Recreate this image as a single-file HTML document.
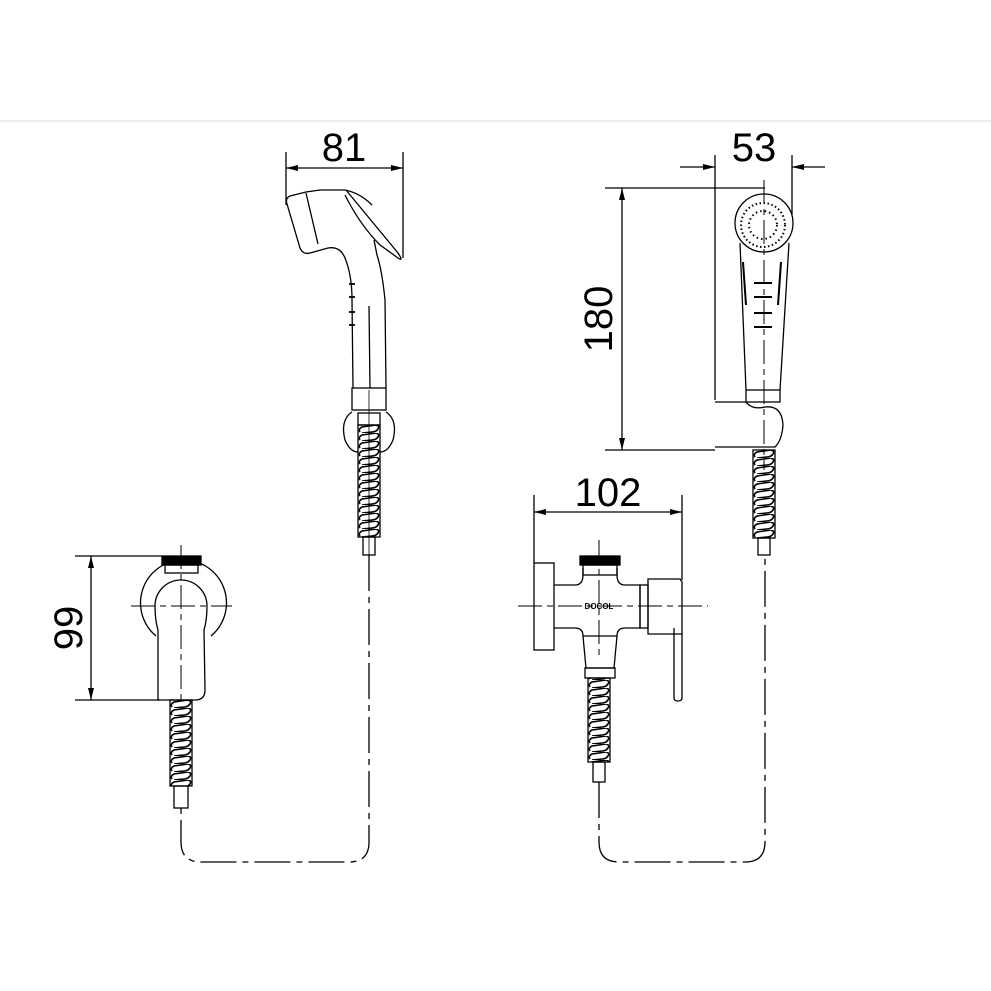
<!DOCTYPE html>
<html><head><style>body{margin:0;background:#fff}svg{display:block}</style></head><body>
<svg width="991" height="991" viewBox="0 0 991 991" xmlns="http://www.w3.org/2000/svg" font-family="Liberation Sans, sans-serif">
<defs>
<marker id="a" viewBox="0 0 12 6" refX="12" refY="3" markerWidth="12" markerHeight="6" orient="auto-start-reverse" markerUnits="userSpaceOnUse"><path d="M0,0L12,3L0,6z" fill="#000"/></marker>
<pattern id="c1" patternUnits="userSpaceOnUse" x="358" y="425" width="22" height="8"><path d="M2,7 Q0,4 4,2 L18,0 Q22,1 20,4 Q18,7 14,7 L4,8" fill="none" stroke="#000" stroke-width="1.6"/></pattern>
<pattern id="c2" patternUnits="userSpaceOnUse" x="170" y="700" width="22" height="8"><path d="M2,7 Q0,4 4,2 L18,0 Q22,1 20,4 Q18,7 14,7 L4,8" fill="none" stroke="#000" stroke-width="1.6"/></pattern>
<pattern id="c3" patternUnits="userSpaceOnUse" x="753" y="450" width="22" height="8"><path d="M2,7 Q0,4 4,2 L18,0 Q22,1 20,4 Q18,7 14,7 L4,8" fill="none" stroke="#000" stroke-width="1.6"/></pattern>
<pattern id="c4" patternUnits="userSpaceOnUse" x="588" y="680" width="22" height="8"><path d="M2,7 Q0,4 4,2 L18,0 Q22,1 20,4 Q18,7 14,7 L4,8" fill="none" stroke="#000" stroke-width="1.6"/></pattern>
</defs>
<line x1="0" y1="121" x2="991" y2="121" stroke="#eee" stroke-width="2"/>
<g fill="none" stroke="#000" stroke-width="1.3">
<!-- dim 81 -->
<line x1="286" y1="152" x2="286" y2="205"/><line x1="403" y1="152" x2="403" y2="258"/>
<line x1="286" y1="168" x2="403" y2="168" marker-start="url(#a)" marker-end="url(#a)"/>
<!-- left handshower -->
<path d="M290,196 Q285,198 287,204 L300,248 Q303,255 310,253 L328,248 Q340,246 345,258 Q352,275 352,300 L353,388"/>
<path d="M290,196 L306,192 L320,190 L345,190 Q360,193 372,205"/>
<path d="M306,193 L318,244"/>
<path d="M386,388 L385,300 Q382,270 377,255 L374,240"/>
<path d="M346,190 L398,253 Q404,262 398,258 L380,245 Q360,225 345,195"/>
<path d="M369,306 L370,388"/>
<g stroke-width="1.8"><line x1="349" y1="284" x2="355" y2="284"/><line x1="349" y1="297" x2="355" y2="297"/><line x1="349" y1="312" x2="355" y2="312"/><line x1="349" y1="325" x2="355" y2="325"/></g>
<rect x="352" y="388" width="34" height="22"/>
<path d="M352,412 Q340,420 345,440 Q350,452 358,452 M386,412 Q398,420 393,440 Q388,452 380,452"/>
<rect x="358" y="413" width="22" height="12"/>
<rect x="358" y="425" width="22" height="112" fill="url(#c1)"/>
<rect x="363" y="537" width="12" height="18"/>
<line x1="369" y1="390" x2="369" y2="555" stroke-width="0.8"/>
<path d="M369,555 L369,842 Q369,862 349,862 L201,862 Q181,862 181,842 L181,808" stroke-dasharray="36,6,6,6"/>
<!-- left valve -->
<line x1="75" y1="556" x2="162" y2="556"/><line x1="75" y1="700" x2="160" y2="700"/>
<line x1="91" y1="556" x2="91" y2="700" marker-start="url(#a)" marker-end="url(#a)"/>
<path d="M156,636 A43,43 0 1 1 211,636"/>
<rect x="162" y="556" width="39" height="9" fill="#000"/>
<rect x="165" y="565" width="33" height="8"/>
<path d="M158,700 L158,630 Q155,620 155,606 A26,26 0 0 1 207,606 Q207,620 204,630 L205,690 Q205,700 195,700 L168,700 Q158,700 158,700"/>
<line x1="131" y1="606" x2="232" y2="606" stroke-dasharray="24,5,6,5" stroke-width="1"/>
<line x1="181" y1="545" x2="181" y2="700" stroke-dasharray="24,5,6,5" stroke-width="1"/>
<rect x="170" y="700" width="22" height="86" fill="url(#c2)"/>
<rect x="174" y="786" width="14" height="22"/>
<!-- right valve -->
<line x1="534" y1="495" x2="534" y2="563"/><line x1="682" y1="495" x2="682" y2="580"/>
<line x1="534" y1="512" x2="682" y2="512" marker-start="url(#a)" marker-end="url(#a)"/>
<rect x="534" y="563" width="20" height="87"/>
<path d="M554,585 L575,585 Q583,585 583,575 L583,568 M617,568 L617,575 Q617,585 625,585 L640,585 L640,628 L625,628 Q617,628 617,636 M583,636 Q583,628 575,628 L554,628"/>
<rect x="580" y="556" width="40" height="9" fill="#000"/>
<rect x="583" y="565" width="34" height="10"/>
<path d="M583,636 L617,636 L614,668 L586,668 Z"/>
<rect x="585" y="668" width="30" height="10"/>
<rect x="640" y="585" width="8" height="43"/>
<path d="M648,579 L680,579 L682,582 L682,634 L648,634 Z"/>
<path d="M674,628 L674,698 Q674,701 678,701 Q682,701 682,698 L682,634"/>
<rect x="588" y="678" width="22" height="84" fill="url(#c4)"/>
<rect x="593" y="762" width="12" height="20"/>
<line x1="518" y1="606" x2="708" y2="606" stroke-dasharray="24,5,6,5" stroke-width="1"/>
<line x1="599" y1="540" x2="599" y2="660" stroke-dasharray="24,5,6,5" stroke-width="1"/>
<path d="M599,782 L599,842 Q599,862 619,862 L745,862 Q765,862 765,842 L765,555" stroke-dasharray="36,6,6,6"/>
<!-- right handshower -->
<line x1="715" y1="155" x2="715" y2="400"/><line x1="792" y1="155" x2="792" y2="215"/>
<line x1="680" y1="167" x2="715" y2="167" marker-end="url(#a)"/>
<line x1="825" y1="167" x2="792" y2="167" marker-end="url(#a)"/>
<line x1="605" y1="188" x2="765" y2="188"/><line x1="605" y1="450" x2="715" y2="450"/>
<line x1="622" y1="188" x2="622" y2="450" marker-start="url(#a)" marker-end="url(#a)"/>
<circle cx="764" cy="223" r="29"/>
<circle cx="763" cy="225" r="22" stroke-dasharray="1.5,2.5" stroke-width="2"/>
<circle cx="763" cy="225" r="14" stroke-dasharray="1.5,3" stroke-width="2"/>
<path d="M740,243 L746,390 M789,243 L780,390"/>
<path d="M743,262 L746,305 M781,262 L778,305" stroke-width="2"/>
<g stroke-width="2"><line x1="754" y1="283" x2="772" y2="283"/><line x1="754" y1="297" x2="772" y2="297"/><line x1="754" y1="313" x2="772" y2="313"/><line x1="754" y1="327" x2="772" y2="327"/></g>
<rect x="746" y="390" width="34" height="12"/>
<path d="M715,402 L746,402 Q752,410 765,407 Q782,405 783,425 Q782,440 775,447 L715,447"/>
<line x1="764" y1="180" x2="764" y2="470" stroke-dasharray="24,5,6,5" stroke-width="1"/>
<rect x="753" y="450" width="22" height="88" fill="url(#c3)"/>
<rect x="758" y="538" width="12" height="17"/>
</g>
<g font-size="40" fill="#000" text-anchor="middle">
<text x="344" y="161">81</text>
<text x="754" y="161">53</text>
<text x="608" y="506">102</text>
<text transform="translate(82,628) rotate(-90)">99</text>
<text transform="translate(612,319) rotate(-90)">180</text>
</g>
<text x="599" y="609" font-size="8" font-weight="bold" text-anchor="middle">DOCOL</text>
</svg>
</body></html>
